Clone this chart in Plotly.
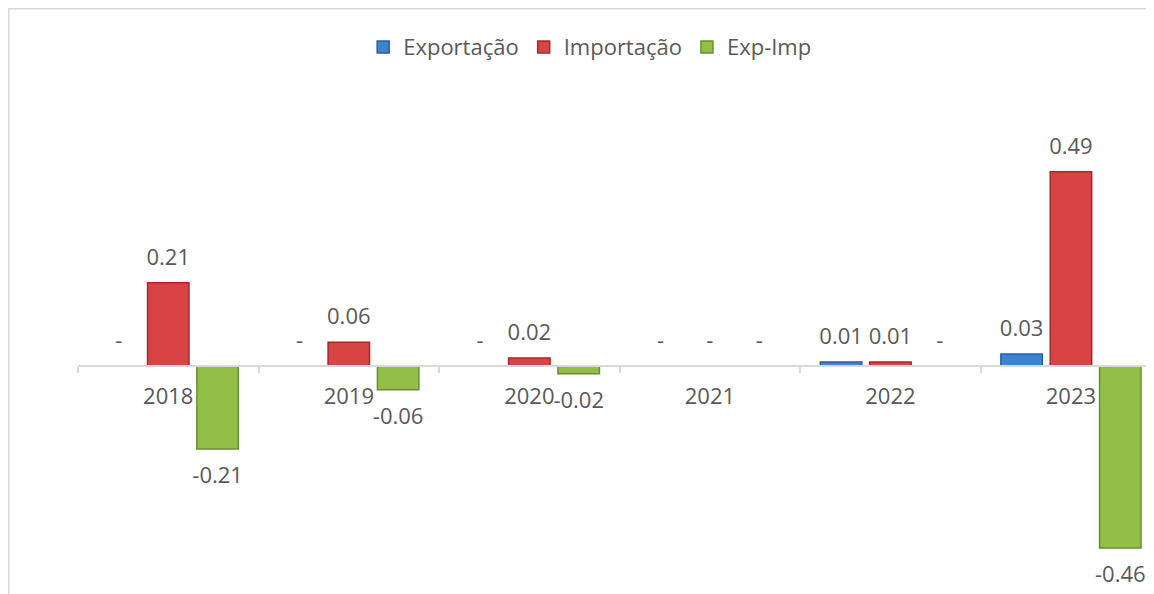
import plotly.graph_objects as go

years = ["2018", "2019", "2020", "2021", "2022", "2023"]
exportacao = [0.00, 0.00, 0.00, 0.00, 0.01, 0.03]
importacao = [0.21, 0.06, 0.02, 0.00, 0.01, 0.49]
exp_imp = [-0.21, -0.06, -0.02, 0.00, 0.00, -0.46]

series = [
    ("Exportação", exportacao, "#3E83D0", "#2A5F9E"),
    ("Importação", importacao, "#D94343", "#A02D2D"),
    ("Exp-Imp", exp_imp, "#92C047", "#6A8F2E"),
]

W, H = 1146, 586
ml, mr, mt, mb = 70, 0, 72, 0
ymin, ymax = -0.576, 0.722
xrange_ = [-0.5, 5.46]
zero_pos = (0 - ymin) / (ymax - ymin)
FONT = "Open Sans"
TXT = "#595959"
FS = 22
BARGAP = 0.18
# small pixel nudge for labels above bars (converted to axis units)
px_per_unit = (H - mt - mb) / (ymax - ymin)
nudge = 5 / px_per_unit

fig = go.Figure()
for name, vals, col, edge in series:
    fig.add_trace(go.Bar(
        name=name, x=years, y=vals,
        marker=dict(color=col, line=dict(color=edge, width=1.5)),
        hoverinfo="x+y",
    ))

# data labels, on hidden numeric axes aligned with the plot
slot = (1 - BARGAP) / 3
for i, (name, vals, col, edge) in enumerate(series):
    pos_x, pos_y, pos_t, neg_x, neg_y, neg_t = [], [], [], [], [], []
    for k, v in enumerate(vals):
        lab = "-" if v == 0 else f"{v:.2f}"
        xk = k + (i - 1) * slot
        if v < 0:
            neg_x.append(xk); neg_y.append(v); neg_t.append(f" <br> <br>{lab}")
        else:
            pos_x.append(xk); pos_y.append(v); pos_t.append(f"{lab}<br> <br> ")
    fig.add_trace(go.Scatter(
        x=pos_x, y=pos_y, mode="text", text=pos_t, textposition="middle center",
        textfont=dict(family=FONT, size=FS, color=TXT),
        xaxis="x2", yaxis="y2", showlegend=False, hoverinfo="skip",
    ))
    fig.add_trace(go.Scatter(
        x=neg_x, y=neg_y, mode="text", text=neg_t, textposition="middle center",
        textfont=dict(family=FONT, size=FS, color=TXT),
        xaxis="x2", yaxis="y", showlegend=False, hoverinfo="skip",
    ))

fig.update_layout(
    width=W, height=H,
    margin=dict(l=ml, r=mr, t=mt, b=mb),
    paper_bgcolor="white", plot_bgcolor="white",
    barmode="group", bargap=BARGAP, bargroupgap=0.16,
    font=dict(family=FONT, size=FS, color=TXT),
    showlegend=True,
    legend=dict(orientation="h", x=0.476, xanchor="center", y=1.064, yanchor="middle",
                font=dict(family=FONT, size=FS, color=TXT),
                itemwidth=30, traceorder="normal"),
    xaxis=dict(
        type="category", range=xrange_,
        anchor="free", position=zero_pos,
        showline=True, linecolor="#D9D9D9", linewidth=2,
        ticks="outside", tickson="boundaries", ticklen=6, tickcolor="#D9D9D9", tickwidth=2,
        ticklabelstandoff=11,
        tickfont=dict(family=FONT, size=FS, color=TXT),
        showgrid=False, zeroline=False,
    ),
    xaxis2=dict(
        type="linear", range=xrange_, overlaying="x", anchor="y",
        visible=False, showgrid=False, zeroline=False,
    ),
    yaxis=dict(
        range=[ymin, ymax], showticklabels=False, showline=False,
        showgrid=False, zeroline=False, ticks="",
    ),
    yaxis2=dict(
        range=[ymin + nudge, ymax + nudge], overlaying="y", anchor="x2",
        visible=False, showgrid=False, zeroline=False,
    ),
    shapes=[
        dict(type="rect", xref="paper", yref="paper",
             x0=(0.75 - ml) / (W - ml - mr), x1=1.2, y0=-0.2,
             y1=(H - 0.75 - mb) / (H - mt - mb),
             line=dict(color="#D9D9D9", width=1.5), fillcolor="rgba(0,0,0,0)",
             layer="below"),
    ],
)

fig.write_html("out.html")
